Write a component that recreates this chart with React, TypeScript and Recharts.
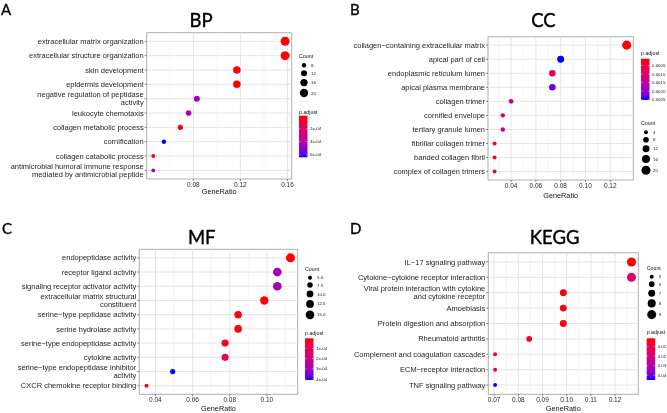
import React from 'react';
import { ScatterChart, Scatter, XAxis, YAxis, ZAxis, Cell, ReferenceArea, ReferenceLine } from 'recharts';

// ---- BP
const bpTerms = [
  'extracellular matrix organization',
  'extracellular structure organization',
  'skin development',
  'epidermis development',
  'negative regulation of peptidase\nactivity',
  'leukocyte chemotaxis',
  'collagen metabolic process',
  'cornification',
  'collagen catabolic process',
  'antimicrobial humoral immune response\nmediated by antimicrobial peptide',
];
const bpRatio = [0.158, 0.158, 0.117, 0.117, 0.083, 0.076, 0.069, 0.055, 0.046, 0.046];
const bpCount = [23, 23, 17, 17, 12, 11, 10, 8, 7, 7];
const bpPadj = [1e-9, 2e-9, 3e-6, 5e-6, 4.3e-4, 4.6e-4, 2.5e-5, 6.4e-4, 1e-5, 4.5e-4];
const bpTicks = [0.08, 0.12, 0.16];
const bpMinor = [0.06, 0.1, 0.14];
const bpSizeBreaks = [8, 12, 16, 20];
const bpSizeLabels = ['8', '12', '16', '20'];
const bpColorBreaks = [2e-4, 4e-4, 6e-4];
const bpColorLabels = ['2e-04', '4e-04', '6e-04'];

// ---- CC
const ccTerms = [
  'collagen\u2212containing extracellular matrix',
  'apical part of cell',
  'endoplasmic reticulum lumen',
  'apical plasma membrane',
  'collagen trimer',
  'cornified envelope',
  'tertiary granule lumen',
  'fibrillar collagen trimer',
  'banded collagen fibril',
  'complex of collagen trimers',
];
const ccRatio = [0.1333, 0.08, 0.0733, 0.0733, 0.04, 0.0333, 0.0333, 0.0267, 0.0267, 0.0267];
const ccCount = [20, 12, 11, 11, 6, 5, 5, 4, 4, 4];
const ccPadj = [0.0001, 0.00252, 0.00085, 0.00228, 0.00155, 0.00095, 0.00143, 0.0002, 0.0002, 0.0009];
const ccTicks = [0.04, 0.06, 0.08, 0.1, 0.12];
const ccMinor = [0.03, 0.05, 0.07, 0.09, 0.11, 0.13];
const ccSizeBreaks = [4, 8, 12, 16, 20];
const ccSizeLabels = ['4', '8', '12', '16', '20'];
const ccColorBreaks = [0.0005, 0.001, 0.0015, 0.002, 0.0025];
const ccColorLabels = ['0.0005', '0.0010', '0.0015', '0.0020', '0.0025'];

// ---- MF
const mfTerms = [
  'endopeptidase activity',
  'receptor ligand activity',
  'signaling receptor activator activity',
  'extracellular matrix structural\nconstituent',
  'serine\u2212type peptidase activity',
  'serine hydrolase activity',
  'serine\u2212type endopeptidase activity',
  'cytokine activity',
  'serine\u2212type endopeptidase inhibitor\nactivity',
  'CXCR chemokine receptor binding',
];
const mfRatio = [0.1127, 0.1056, 0.1056, 0.0986, 0.0845, 0.0845, 0.0775, 0.0775, 0.0493, 0.0352];
const mfCount = [16, 15, 15, 14, 12, 12, 11, 11, 7, 5];
const mfPadj = [1e-7, 2.9e-4, 2.9e-4, 5e-6, 1e-5, 1.2e-5, 4e-5, 1.3e-4, 4.1e-4, 1e-5];
const mfTicks = [0.04, 0.06, 0.08, 0.1];
const mfMinor = [0.05, 0.07, 0.09, 0.11];
const mfSizeBreaks = [5, 7.5, 10, 12.5, 15];
const mfSizeLabels = ['5.0', '7.5', '10.0', '12.5', '15.0'];
const mfColorBreaks = [1e-4, 2e-4, 3e-4, 4e-4];
const mfColorLabels = ['1e-04', '2e-04', '3e-04', '4e-04'];

// ---- KEGG
const keggTerms = [
  'IL\u221217 signaling pathway',
  'Cytokine\u2212cytokine receptor interaction',
  'Viral protein interaction with cytokine\nand cytokine receptor',
  'Amoebiasis',
  'Protein digestion and absorption',
  'Rheumatoid arthritis',
  'Complement and coagulation cascades',
  'ECM\u2212receptor interaction',
  'TNF signaling pathway',
];
const keggRatio = [0.1268, 0.1268, 0.0986, 0.0986, 0.0986, 0.0845, 0.0704, 0.0704, 0.0704];
const keggCount = [9, 9, 7, 7, 7, 6, 5, 5, 5];
const keggPadj = [0.0012, 0.017, 0.0025, 0.0025, 0.0028, 0.0065, 0.012, 0.012, 0.045];
const keggTicks = [0.07, 0.08, 0.09, 0.1, 0.11, 0.12];
const keggMinor = [0.075, 0.085, 0.095, 0.105, 0.115, 0.125];
const keggSizeBreaks = [5, 6, 7, 8, 9];
const keggSizeLabels = ['5', '6', '7', '8', '9'];
const keggColorBreaks = [0.01, 0.02, 0.03, 0.04];
const keggColorLabels = ['0.01', '0.02', '0.03', '0.04'];

const FONT = '"Liberation Sans", Arial, sans-serif';
const TITLE_FONT = 'Lato, "Open Sans", sans-serif';
const AREA: [number, number] = [12, 64];

// red -> blue ramp, interpolated in Lab like ggplot
const WX = 0.95047, WZ = 1.08883;
const toLin = (c: number) => { c /= 255; return c <= 0.04045 ? c / 12.92 : Math.pow((c + 0.055) / 1.055, 2.4); };
const toS = (c: number) => {
  const v = c <= 0.0031308 ? 12.92 * c : 1.055 * Math.pow(Math.max(c, 0), 1 / 2.4) - 0.055;
  return Math.round(Math.max(0, Math.min(1, v)) * 255);
};
function toLab(rgb: number[]) {
  const [r, g, b] = rgb.map(toLin);
  const f = (t: number) => (t > 0.008856 ? Math.cbrt(t) : 7.787 * t + 16 / 116);
  const fx = f((0.4124 * r + 0.3576 * g + 0.1805 * b) / WX);
  const fy = f(0.2126 * r + 0.7152 * g + 0.0722 * b);
  const fz = f((0.0193 * r + 0.1192 * g + 0.9505 * b) / WZ);
  return [116 * fy - 16, 500 * (fx - fy), 200 * (fy - fz)];
}
function fromLab([L, a, b]: number[]) {
  const fy = (L + 16) / 116, fx = fy + a / 500, fz = fy - b / 200;
  const inv = (t: number) => (t ** 3 > 0.008856 ? t ** 3 : (t - 16 / 116) / 7.787);
  const x = inv(fx) * WX, y = inv(fy), z = inv(fz) * WZ;
  const r = 3.2406 * x - 1.5372 * y - 0.4986 * z;
  const g = -0.9689 * x + 1.8758 * y + 0.0415 * z;
  const bl = 0.0557 * x - 0.204 * y + 1.057 * z;
  return `rgb(${toS(r)},${toS(g)},${toS(bl)})`;
}
const LOW = toLab([255, 0, 0]);
const HIGH = toLab([0, 0, 255]);
const ramp = (t: number) => fromLab(LOW.map((v, i) => v + (HIGH[i] - v) * t));

const sizeDiam = (c: number, lo: number, hi: number) => {
  const area = AREA[0] + ((AREA[1] - AREA[0]) * (c - lo)) / (hi - lo);
  return 2 * Math.sqrt(area / Math.PI);
};

interface Box { x: number; y: number; w: number; h: number }
interface Rect { l: number; t: number; r: number; b: number }

interface PanelDef {
  id: string;
  letter: string;
  title: string;
  terms: string[];
  ratio: number[];
  count: number[];
  padj: number[];
  ticks: number[];
  minor: number[];
  sizeBreaks: number[];
  sizeLabels: string[];
  colorBreaks: number[];
  colorLabels: string[];
  box: Box;
  plot: Rect;
  letterPos: [number, number];
  titlePos: [number, number];
  xlabY: number;
  sizeLeg: { x: number; titleY: number; firstY: number };
  colorLeg: { x: number; titleY: number; top: number; h: number };
}

const panels: PanelDef[] = [
  {
    id: 'bp', letter: 'A', title: 'BP',
    terms: bpTerms, ratio: bpRatio, count: bpCount, padj: bpPadj,
    ticks: bpTicks, minor: bpMinor,
    sizeBreaks: bpSizeBreaks, sizeLabels: bpSizeLabels,
    colorBreaks: bpColorBreaks, colorLabels: bpColorLabels,
    box: { x: 0, y: 0, w: 334, h: 206 },
    plot: { l: 146.7, t: 32.7, r: 291.7, b: 179 },
    letterPos: [1, 14.7], titlePos: [201, 26.7], xlabY: 193.5,
    sizeLeg: { x: 299, titleY: 56, firstY: 65.3 },
    colorLeg: { x: 299, titleY: 111.7, top: 115.7, h: 41.6 },
  },
  {
    id: 'cc', letter: 'B', title: 'CC',
    terms: ccTerms, ratio: ccRatio, count: ccCount, padj: ccPadj,
    ticks: ccTicks, minor: ccMinor,
    sizeBreaks: ccSizeBreaks, sizeLabels: ccSizeLabels,
    colorBreaks: ccColorBreaks, colorLabels: ccColorLabels,
    box: { x: 334, y: 0, w: 333, h: 206 },
    plot: { l: 488, t: 36.7, r: 633.3, b: 180 },
    letterPos: [350, 15], titlePos: [543.5, 27.3], xlabY: 198,
    sizeLeg: { x: 641, titleY: 123.3, firstY: 132.3 },
    colorLeg: { x: 641, titleY: 53.3, top: 58.7, h: 41.3 },
  },
  {
    id: 'mf', letter: 'C', title: 'MF',
    terms: mfTerms, ratio: mfRatio, count: mfCount, padj: mfPadj,
    ticks: mfTicks, minor: mfMinor,
    sizeBreaks: mfSizeBreaks, sizeLabels: mfSizeLabels,
    colorBreaks: mfColorBreaks, colorLabels: mfColorLabels,
    box: { x: 0, y: 206, w: 334, h: 207 },
    plot: { l: 139.3, t: 249.3, r: 297.7, b: 394.3 },
    letterPos: [2, 234.3], titlePos: [201.7, 244.3], xlabY: 410.5,
    sizeLeg: { x: 305, titleY: 269, firstY: 277.7 },
    colorLeg: { x: 305, titleY: 332.7, top: 338.3, h: 41.7 },
  },
  {
    id: 'kegg', letter: 'D', title: 'KEGG',
    terms: keggTerms, ratio: keggRatio, count: keggCount, padj: keggPadj,
    ticks: keggTicks, minor: keggMinor,
    sizeBreaks: keggSizeBreaks, sizeLabels: keggSizeLabels,
    colorBreaks: keggColorBreaks, colorLabels: keggColorLabels,
    box: { x: 334, y: 206, w: 333, h: 207 },
    plot: { l: 488.3, t: 252.7, r: 638.3, b: 394.3 },
    letterPos: [350, 234.3], titlePos: [554.7, 244.3], xlabY: 410.5,
    sizeLeg: { x: 646.7, titleY: 268.3, firstY: 276.7 },
    colorLeg: { x: 646.7, titleY: 332.3, top: 338.3, h: 41.7 },
  },
];

const TermTick = (props: any) => {
  const { x, y, payload, terms } = props;
  const n = terms.length;
  const label: string = terms[n - Math.round(payload.value)] ?? '';
  const lines = label.split('\n');
  const LH = 8;
  return (
    <text x={x} y={y} textAnchor="end" fontSize={7.5} fill="#1e1e1e" fontFamily={FONT}>
      {lines.map((l, i) => (
        <tspan key={i} x={x} dy={i === 0 ? 2.6 - ((lines.length - 1) * LH) / 2 : LH}>{l}</tspan>
      ))}
    </text>
  );
};

function DotPanel({ p }: { p: PanelDef }) {
  const n = p.terms.length;
  const rows = p.terms.map((t, i) => ({ term: t, y: n - i, ratio: p.ratio[i], count: p.count[i], padj: p.padj[i] }));
  const rmin = Math.min(...p.ratio), rmax = Math.max(...p.ratio);
  const ex = (rmax - rmin) * 0.05;
  const xDom: [number, number] = [rmin - ex, rmax + ex];
  const cmin = Math.min(...p.count), cmax = Math.max(...p.count);
  const pmin = Math.min(...p.padj), pmax = Math.max(...p.padj);
  const yTicks = p.terms.map((_, i) => i + 1);
  const { box, plot } = p;
  return (
    <div style={{ position: 'absolute', left: box.x, top: box.y }}>
      <ScatterChart
        width={box.w}
        height={box.h}
        margin={{ top: plot.t - box.y, right: box.x + box.w - plot.r, bottom: 0, left: 0 }}
      >
        <XAxis
          type="number"
          dataKey="ratio"
          domain={xDom}
          allowDataOverflow
          ticks={p.ticks}
          interval={0}
          tickFormatter={(v: number) => v.toFixed(2)}
          height={box.y + box.h - plot.b}
          axisLine={false}
          tickSize={2}
          tickMargin={1}
          tickLine={{ stroke: '#333', strokeWidth: 0.6 }}
          tick={{ fontSize: 6.5, fill: '#2a2a2a', fontFamily: FONT }}
        />
        <YAxis
          type="number"
          dataKey="y"
          domain={[0.4, n + 0.6]}
          allowDataOverflow
          ticks={yTicks}
          interval={0}
          width={plot.l - box.x}
          axisLine={false}
          tickSize={2}
          tickMargin={1}
          tickLine={{ stroke: '#333', strokeWidth: 0.6 }}
          tick={(tp: any) => <TermTick {...tp} terms={p.terms} />}
        />
        <ZAxis type="number" dataKey="count" domain={[cmin, cmax]} range={AREA} />
        {p.minor.map((v) => (
          <ReferenceLine key={`mn${v}`} x={v} stroke="#eeeeee" strokeWidth={0.6} />
        ))}
        {p.ticks.map((v) => (
          <ReferenceLine key={`mj${v}`} x={v} stroke="#e2e2e2" strokeWidth={0.9} />
        ))}
        {yTicks.map((v) => (
          <ReferenceLine key={`h${v}`} y={v} stroke="#e2e2e2" strokeWidth={0.9} />
        ))}
        <Scatter data={rows} shape="circle" isAnimationActive={false}>
          {rows.map((r, i) => (
            <Cell key={i} fill={ramp((r.padj - pmin) / (pmax - pmin))} />
          ))}
        </Scatter>
        <ReferenceArea
          x1={xDom[0]}
          x2={xDom[1]}
          y1={0.4}
          y2={n + 0.6}
          fill="none"
          fillOpacity={0}
          stroke="#999"
          strokeWidth={0.8}
          ifOverflow="visible"
        />
      </ScatterChart>
    </div>
  );
}

function Decorations({ p }: { p: PanelDef }) {
  const cmin = Math.min(...p.count), cmax = Math.max(...p.count);
  const pmin = Math.min(...p.padj), pmax = Math.max(...p.padj);
  const diams = p.sizeBreaks.map((c) => sizeDiam(c, cmin, cmax));
  const ys: number[] = [];
  diams.forEach((d, i) => {
    ys.push(i === 0 ? p.sizeLeg.firstY : ys[i - 1] + (diams[i - 1] + d) / 2 + 2.7);
  });
  const dotX = p.sizeLeg.x + 5;
  const cl = p.colorLeg;
  const gid = `grad-${p.id}`;
  const stops = [0, 0.1, 0.2, 0.3, 0.4, 0.5, 0.6, 0.7, 0.8, 0.9, 1];
  return (
    <g>
      <text x={p.letterPos[0]} y={p.letterPos[1]} fontSize={15} fontFamily={TITLE_FONT} fill="#000" stroke="#000" strokeWidth={0.35}>{p.letter}</text>
      <text x={p.titlePos[0]} y={p.titlePos[1]} fontSize={18.5} fontFamily={TITLE_FONT} fill="#000" stroke="#000" strokeWidth={0.4} textAnchor="middle">{p.title}</text>
      <text x={(p.plot.l + p.plot.r) / 2} y={p.xlabY} fontSize={7.3} fontFamily={FONT} fill="#111" textAnchor="middle">GeneRatio</text>

      <text x={p.sizeLeg.x} y={p.sizeLeg.titleY + 1.9} fontSize={5.3} fontFamily={FONT} fill="#111">Count</text>
      {diams.map((d, i) => (
        <g key={i}>
          <circle cx={dotX} cy={ys[i]} r={d / 2} fill="#000" />
          <text x={p.sizeLeg.x + 12} y={ys[i] + 1.6} fontSize={4.4} fontFamily={FONT} fill="#222">{p.sizeLabels[i]}</text>
        </g>
      ))}

      <defs>
        <linearGradient id={gid} x1="0" y1="0" x2="0" y2="1">
          {stops.map((s) => <stop key={s} offset={s} stopColor={ramp(s)} />)}
        </linearGradient>
      </defs>
      <text x={cl.x} y={cl.titleY + 1.9} fontSize={5.3} fontFamily={FONT} fill="#111">p.adjust</text>
      <rect x={cl.x} y={cl.top} width={8.5} height={cl.h} fill={`url(#${gid})`} />
      {p.colorBreaks.map((v, i) => {
        const y = cl.top + ((v - pmin) / (pmax - pmin)) * cl.h;
        return (
          <g key={i}>
            <line x1={cl.x} x2={cl.x + 1.7} y1={y} y2={y} stroke="#fff" strokeWidth={0.4} />
            <line x1={cl.x + 6.8} x2={cl.x + 8.5} y1={y} y2={y} stroke="#fff" strokeWidth={0.4} />
            <text x={cl.x + 11} y={y + 1.6} fontSize={4.4} fontFamily={FONT} fill="#222">{p.colorLabels[i]}</text>
          </g>
        );
      })}
    </g>
  );
}

export default function App() {
  return (
    <div style={{ position: 'fixed', left: 0, top: 0, width: 667, height: 413, overflow: 'hidden', willChange: 'transform' }}>
      {panels.map((p) => <DotPanel key={p.id} p={p} />)}
      <svg width={667} height={413} style={{ position: 'absolute', left: 0, top: 0, pointerEvents: 'none' }}>
        {panels.map((p) => <Decorations key={p.id} p={p} />)}
      </svg>
    </div>
  );
}
